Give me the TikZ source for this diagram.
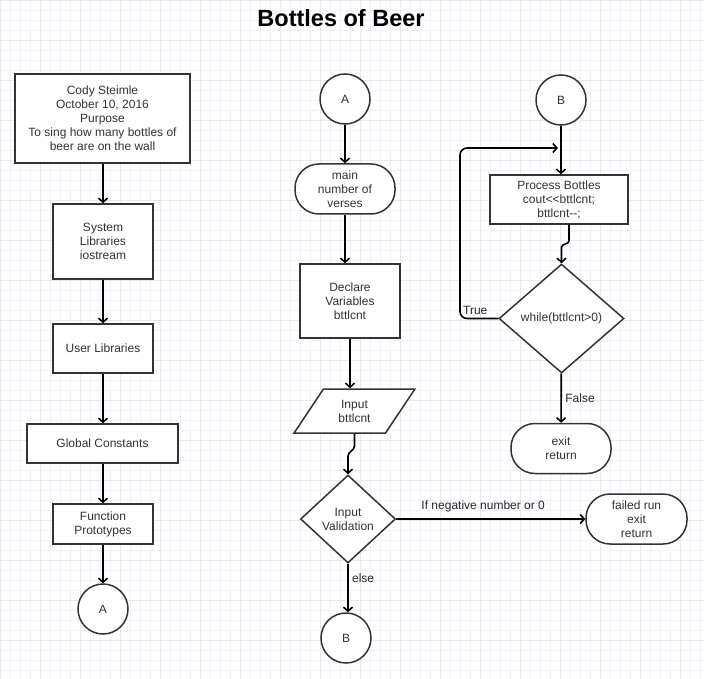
\documentclass[tikz,border=0pt]{standalone}
\usepackage{fontspec}
\setmainfont{Liberation Sans}
\usetikzlibrary{arrows.meta,shapes.geometric}

\definecolor{gridminor}{RGB}{240,240,254}
\definecolor{gridmajor}{RGB}{230,230,252}
\definecolor{shapeline}{RGB}{51,51,51}

\begin{document}
\begin{tikzpicture}[x=1pt,y=-1pt,
    txt/.style={font=\fontsize{12}{14}\selectfont,text=shapeline,align=center},
    box/.style={txt,draw=shapeline,line width=1.5pt,fill=white,inner sep=1pt},
    term/.style={box,rounded corners=24pt,minimum width=100,minimum height=50},
    jump/.style={box,circle,inner sep=0pt,minimum size=50},
    flow/.style={line width=1.6pt,-{Straight Barb[length=4pt,width=9pt]}},
    lbl/.style={txt,text=black!85}]
                \fill[white] (0,0) rectangle (704,679);
                \useasboundingbox (0,0) rectangle (704,679);
                \draw[gridminor,line width=0.6pt,step=10pt] (0,679) grid (704,0);
                \draw[gridmajor,line width=0.8pt,step=40pt] (0,679) grid (704,0);
                \node[font=\fontsize{23.5}{26}\selectfont\bfseries] (title) at (341,18) {Bottles of Beer};

                \node[box,minimum width=175,minimum height=89] (head) at (102.5,118.5) {Cody Steimle\\October 10, 2016\\Purpose\\To sing how many bottles of\\beer are on the wall};
                \node[box,minimum width=100,minimum height=75] (sys) at (103,241.5) {System\\Libraries\\iostream};
                \node[box,minimum width=100,minimum height=49] (usr) at (103,348.5) {User Libraries};
                \node[box,minimum width=151,minimum height=39] (glob) at (102.5,443.5) {Global Constants};
                \node[box,minimum width=100,minimum height=40] (proto) at (103,524) {Function\\Prototypes};
                \node[jump] (a1) at (103,609) {A};

                \node[jump] (a2) at (345,99) {A};
                \node[term] (mainv) at (345,189) {main\\number of\\verses};
                \node[box,minimum width=100,minimum height=74] (decl) at (350,301) {Declare\\Variables\\bttlcnt};
                \node[box,trapezium,trapezium left angle=56.6,trapezium right angle=123.4,trapezium stretches=true,minimum width=121,minimum height=44] (inp) at (354.5,411) {Input\\bttlcnt};
                \node[box,diamond,minimum width=95,minimum height=88] (valid) at (348,519) {Input\\Validation};
                \node[term,minimum width=101] (fail) at (636.5,519) {failed run\\exit\\return};
                \node[jump] (b1) at (346,638) {B};

                \node[jump] (b2) at (561,100) {B};
                \node[box,minimum width=138,minimum height=49] (bottles) at (559,199.5) {Process Bottles\\cout{<}{<}bttlcnt;\\bttlcnt-{}-;};
                \node[box,diamond,minimum width=125,minimum height=109] (loop) at (561.5,318.5) {while(bttlcnt>0)};
                \node[term] (done) at (561,448.5) {exit\\return};
                \coordinate (back) at (558,148);

                \draw[flow] (sys.north |- head.south) -- (sys);
                \draw[flow] (sys) -- (usr);
                \draw[flow] (usr) -- (usr |- glob.north);
                \draw[flow] (proto |- glob.south) -- (proto);
                \draw[flow] (proto) -- (a1);

                \draw[flow] (a2) -- (mainv);
                \draw[flow] (mainv.south) -- (mainv.south |- decl.north);
                \draw[flow] (decl.south) -- (decl.south |- inp.north);
                \draw[flow] (inp.south) -- ++(0,12) to[out=-90,in=90] ([yshift=18pt]valid.north) -- (valid.north);
                \draw[flow] (valid) -- node[lbl,above=3pt,pos=0.46] {If negative number or 0} (fail);
                \draw[flow] (valid.south) -- node[lbl,right,pos=0.3] {else} (valid.south |- b1.north);

                \draw[flow] (b2) -- (b2.south |- bottles.north);
                \draw[flow] ([xshift=10pt]bottles.south) -- ++(0,16) to[out=-90,in=90] ([yshift=16pt]loop.north) -- (loop.north);
                \draw[flow,rounded corners=7pt] (loop.west) -- node[lbl,above,pos=0.6] {True} (460,318.5) -- (460,148) -- (back);
                \draw[flow] (loop) -- node[lbl,right] {False} (done);
\end{tikzpicture}
\end{document}
